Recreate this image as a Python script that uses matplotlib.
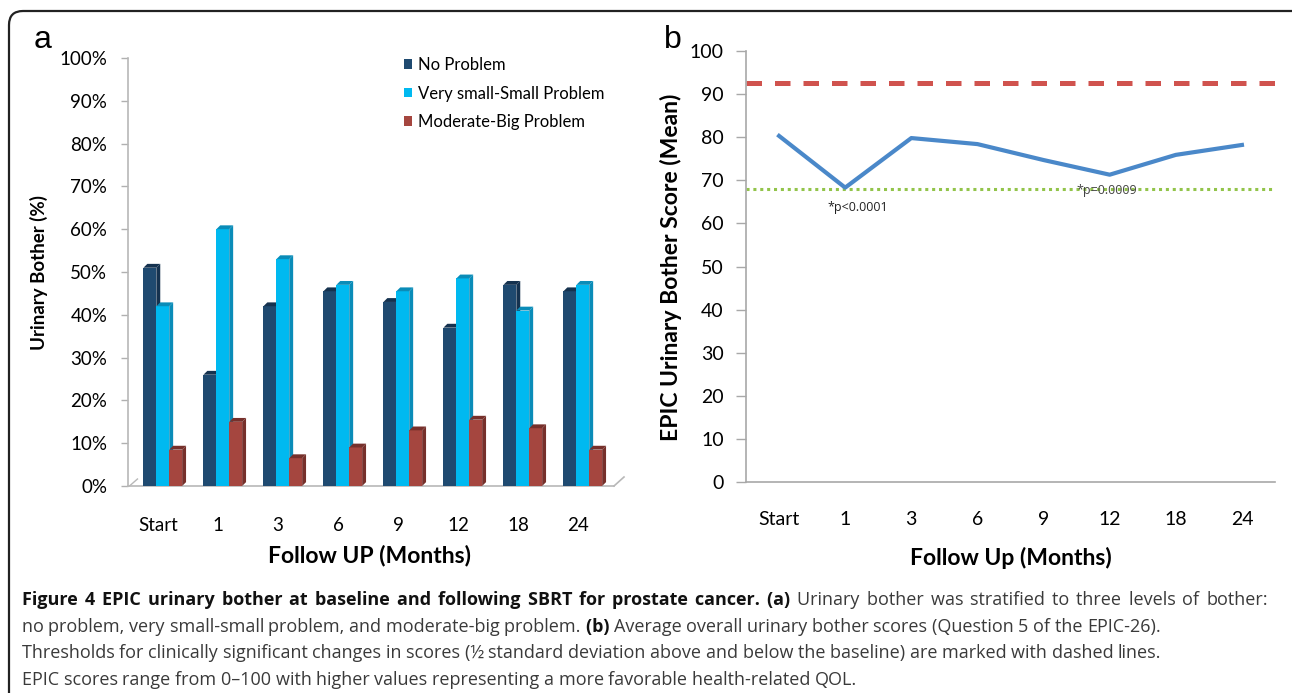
import numpy as np
import matplotlib
matplotlib.use("Agg")
import matplotlib.pyplot as plt
from matplotlib.patches import Polygon, FancyBboxPatch
from matplotlib.lines import Line2D

# data
months = ["Start", "1", "3", "6", "9", "12", "18", "24"]
no_problem = [51, 26, 42, 45.5, 43, 37, 47, 45.5]
small_problem = [42, 60, 53, 47, 45.5, 48.5, 41, 47]
big_problem = [8.5, 15, 6.5, 9, 13, 15.5, 13.5, 8.5]
series_names = ["No Problem", "Very small-Small Problem", "Moderate-Big Problem"]

bother_mean = [80.3, 68.3, 79.8, 78.4, 74.7, 71.3, 75.9, 78.2]
upper_threshold = 92.5
lower_threshold = 67.9

W, H = 1292, 693
CHART_FONT = ["Lato", "DejaVu Sans"]
CAP_FONT = ["Open Sans", "DejaVu Sans"]
plt.rcParams["font.family"] = CHART_FONT


def px(x0, y0, w, h):
    # pixel box (top-left origin) -> figure fraction
    return [x0 / W, (H - y0 - h) / H, w / W, h / H]


def bar3d(ax, xs, vals, width, front, side, z, dx, dy, label):
    bars = ax.bar(xs, vals, width, color=front, zorder=z, label=label, linewidth=0)
    for b in bars:
        l, r, h = b.get_x(), b.get_x() + b.get_width(), b.get_height()
        ax.add_patch(Polygon([(r, 0), (r + dx, dy), (r + dx, h + dy), (r, h)],
                             closed=True, color=side, lw=0, zorder=z))
        ax.add_patch(Polygon([(l, h), (l + dx, h + dy), (r + dx, h + dy), (r, h)],
                             closed=True, color=side, lw=0, zorder=z))
    return bars


fig = plt.figure(figsize=(W / 100, H / 100), dpi=100)

# outer frame (open at the bottom, like the journal panel)
fig.patches.append(FancyBboxPatch((9, -40), 1300, H - 11 + 40,
                                  boxstyle="round,pad=0,rounding_size=14",
                                  transform=None, fill=False, ec="#222222", lw=1.6))

# ---------------- panel a ----------------
ax = fig.add_axes(px(128, 58, 486, 428))
x = np.arange(len(months))
w = 0.215
shift = 0.08
dx, dy = 0.065, 0.9
bar3d(ax, x - w + shift, no_problem, w, "#1f4a70", "#15324f", 3, dx, dy, series_names[0])
bar3d(ax, x + shift, small_problem, w, "#00b9f0", "#0a8cb8", 4, dx, dy, series_names[1])
bar3d(ax, x + w + shift, big_problem, w, "#a5463f", "#76302b", 5, dx, dy, series_names[2])

ax.set_xlim(-0.5, 7.6)
ax.set_ylim(0, 100)
ax.set_yticks(np.arange(0, 101, 10))
ax.set_yticklabels([f"{v}%" for v in range(0, 101, 10)], fontsize=13.5)
ax.set_xticks(x)
ax.set_xticklabels(months, fontsize=13.5)
ax.tick_params(axis="y", length=5, width=1, color="#b0b0b0", pad=10)
ax.tick_params(axis="x", length=0, pad=22)
for s in ["top", "right"]:
    ax.spines[s].set_visible(False)
for s in ["left", "bottom"]:
    ax.spines[s].set_color("#b8b8b8")
    ax.spines[s].set_linewidth(1.2)
ax.add_line(Line2D([1, 1 + 10 / 486], [0, 9 / 428], transform=ax.transAxes,
                   color="#b8b8b8", lw=1.2, clip_on=False))
ax.add_line(Line2D([0.003, 0.003 + 8 / 486], [0, 7 / 428], transform=ax.transAxes,
                   color="#b8b8b8", lw=1.0, clip_on=False))
ax.legend(loc="upper left", bbox_to_anchor=(404 / W, 1 - 57 / H),
          bbox_transform=fig.transFigure, frameon=False, fontsize=12,
          handlelength=0.5, handleheight=0.5, handletextpad=0.35,
          labelspacing=0.75, borderpad=0, borderaxespad=0)

fig.text(39 / W, 1 - 273 / H, "Urinary Bother (%)", rotation=90, ha="center",
         va="center", fontsize=13.5, fontweight="bold")
fig.text(369 / W, 1 - 555 / H, "Follow UP (Months)", ha="center", va="center",
         fontsize=16.5, fontweight="bold")
fig.text(43 / W, 1 - 40 / H, "a", ha="center", va="center", fontsize=23,
         family=["Liberation Sans", "DejaVu Sans"])

# ---------------- panel b ----------------
bx = fig.add_axes(px(746, 51, 529, 431))
xb = np.arange(len(months))
bx.axhline(upper_threshold, color="#d0534e", lw=3.6, dashes=(3.1, 2.6), zorder=2)
bx.axhline(lower_threshold, color="#92c44a", lw=2.2, dashes=(1, 1.25), zorder=2)
bx.plot(xb, bother_mean, color="#4a88c9", lw=3, zorder=3)
bx.set_xlim(-0.5, 7.5)
bx.set_ylim(0, 100)
bx.set_yticks(np.arange(0, 101, 10))
bx.set_yticklabels([str(v) for v in range(0, 101, 10)], fontsize=14)
bx.set_xticks(xb)
bx.set_xticklabels(months, fontsize=14)
bx.tick_params(axis="y", length=7, width=1, color="#a8a8a8", pad=9)
bx.tick_params(axis="x", length=0, pad=21)
for s in ["top", "right"]:
    bx.spines[s].set_visible(False)
for s in ["left", "bottom"]:
    bx.spines[s].set_color("#a8a8a8")
    bx.spines[s].set_linewidth(1.2)
bx.text(1.19, 63.6, "*p<0.0001", ha="center", va="center", fontsize=9,
        color="#222222", family=["Open Sans", "DejaVu Sans"])
bx.text(4.95, 67.6, "*p=0.0009", ha="center", va="center", fontsize=9,
        color="#444444", family=["Open Sans", "DejaVu Sans"], zorder=4)

fig.text(671 / W, 1 - 267 / H, "EPIC Urinary Bother Score (Mean)", rotation=90,
         ha="center", va="center", fontsize=16.5, fontweight="bold")
fig.text(1011 / W, 1 - 558 / H, "Follow Up (Months)", ha="center", va="center",
         fontsize=16.5, fontweight="bold")
fig.text(673 / W, 1 - 40 / H, "b", ha="center", va="center", fontsize=23,
         family=["Liberation Sans", "DejaVu Sans"])

# ---------------- caption ----------------
caption = [
    [("Figure 4 EPIC urinary bother at baseline and following SBRT for prostate cancer. (a)", True),
     ("Urinary bother was stratified to three levels of bother:", False)],
    [("no problem, very small-small problem, and moderate-big problem.", False),
     ("(b)", True),
     ("Average overall urinary bother scores (Question 5 of the EPIC-26).", False)],
    [("Thresholds for clinically significant changes in scores (\u00bd standard deviation above and below the baseline) are marked with dashed lines.", False)],
    [("EPIC scores range from 0\u2013100 with higher values representing a more favorable health-related QOL.", False)],
]
line_y = [600, 627, 653, 680]
first_line = []
for i, (parts, yy) in enumerate(zip(caption, line_y)):
    words = [(wd, bold) for txt, bold in parts for wd in txt.split(" ")]
    prev = None
    for k, (wd, bold) in enumerate(words):
        label = wd + (" " if k < len(words) - 1 else "")
        kw = dict(fontsize=13, family=CAP_FONT,
                  fontweight="bold" if bold else "normal",
                  color="#111111" if bold else "#3a3a3a", va="center", ha="left")
        if prev is None:
            prev = fig.text(22 / W, 1 - yy / H, label, **kw)
        else:
            prev = fig.add_artist(plt.Annotation(label, xy=(1, 0.5), xycoords=prev,
                                                 xytext=(0, 0), textcoords="offset pixels", **kw))
        if i == 0:
            first_line.append(prev)

# justify the first caption line to the right margin, as in the journal layout
renderer = fig.canvas.get_renderer()
right = first_line[-1].get_window_extent(renderer).x1
extra = max(0.0, (1268 - right) / (len(first_line) - 1))
for t in first_line[1:]:
    t.xyann = (extra, 0)

fig.savefig("out.png", dpi=100)
